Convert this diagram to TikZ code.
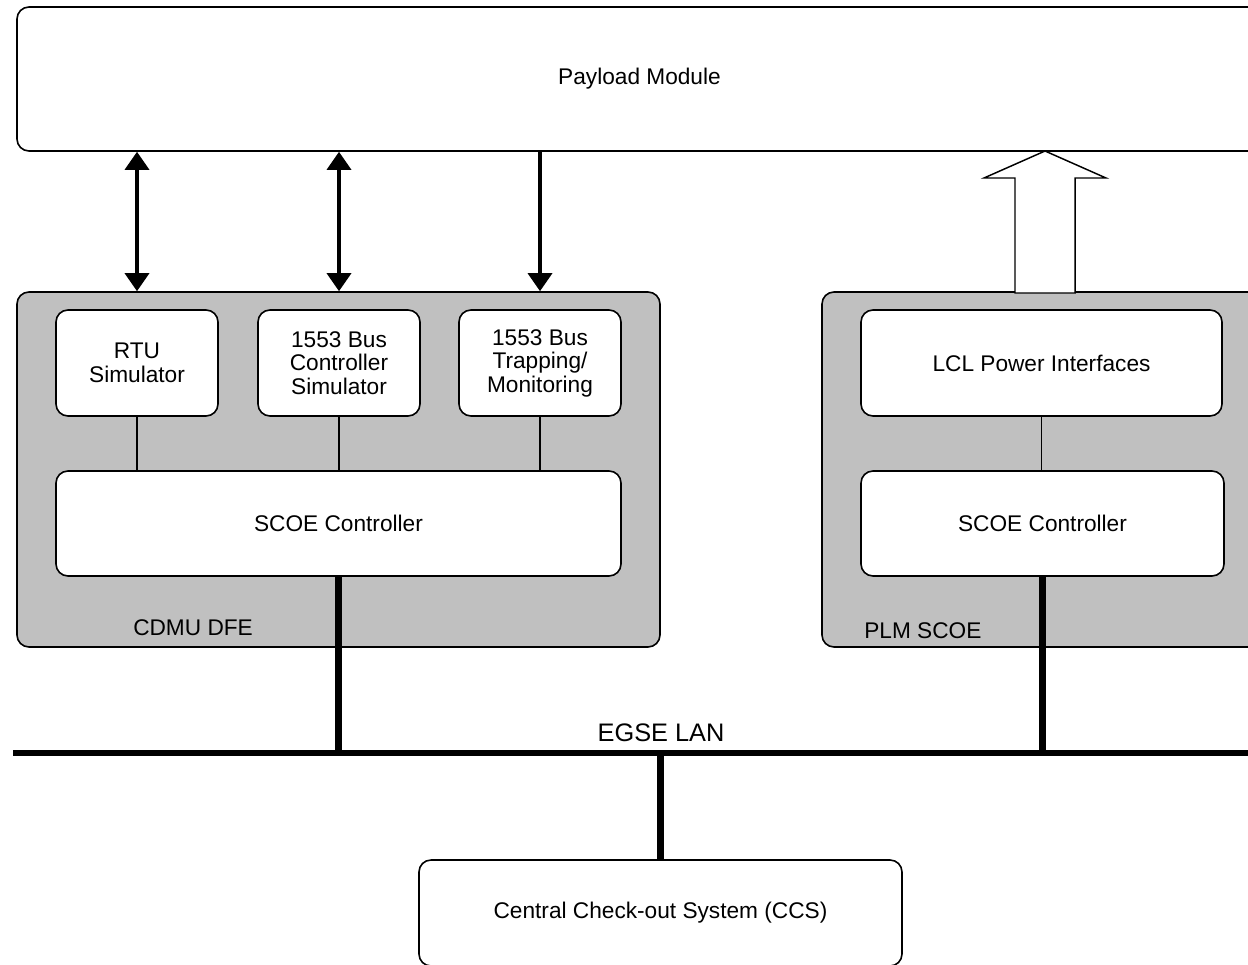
\documentclass[tikz,border=0pt]{standalone}
\usepackage{fontspec}
\setmainfont{Liberation Sans}
\usetikzlibrary{positioning,fit,arrows.meta}

\definecolor{scoegray}{HTML}{C0C0C0}

\tikzset{
  box/.style={draw, line width=1.2pt, rounded corners=9pt, fill=white, inner sep=0pt},
  unitbox/.style={box, fill=scoegray},
  txt/.style={align=center, inner sep=0pt, font=\fontsize{17}{17.6}\selectfont},
  tag/.style={txt, anchor=west},
  link/.style={line width=1.1pt},
  lan/.style={line width=5pt},
  tip/.tip={Triangle[width=18pt,length=13.5pt]},
  sig/.style={line width=2.6pt, -tip},
  dsig/.style={line width=2.6pt, tip-tip},
}

\begin{document}
\begin{tikzpicture}[x=0.75pt,y=-0.75pt]
  \useasboundingbox (0,0) rectangle (1248,964);
  \clip (0,0) rectangle (1248,964);

  % payload and the two front ends
  \node[box, fit={(17,7) (1262,151)}, label={[txt]center:Payload Module}] (plm) {};
  \node[unitbox, fit={(17,292) (660,647)}] (cdmu) {};
  \node[unitbox, fit={(822,292) (1270,647)}] (plmscoe) {};
  \node[tag] (cdmulbl) at (133,628) {CDMU DFE};
  \node[tag] (plmlbl) at (864,631) {PLM SCOE};

  % CDMU DFE modules
  \node[box, fit={(56,310) (218,416)}, label={[txt]center:RTU\\Simulator}] (rtu) {};
  \node[box, fit={(258,310) (420,416)}, label={[txt]center:1553 Bus\\Controller\\Simulator}] (bc) {};
  \node[box, fit={(459,310) (621,416)}, label={[txt]center:1553 Bus\\Trapping/\\Monitoring}] (bm) {};
  \node[box, fit={(56,471) (621,576)}, label={[txt]center:SCOE Controller}] (ctrlA) {};
  \foreach \m in {rtu,bc,bm} { \draw[link] (\m.south) -- (\m.south |- ctrlA.north); }

  % PLM SCOE modules
  \node[box, fit={(861,310) (1222,416)}, label={[txt]center:LCL Power Interfaces}] (lcl) {};
  \node[box, fit={(861,471) (1224,576)}, label={[txt]center:SCOE Controller}] (ctrlB) {};
  \draw[link] (lcl.south) -- (lcl.south |- ctrlB.north);

  % payload links
  \draw[dsig] (rtu |- plm.south) -- (rtu |- cdmu.north);
  \draw[dsig] (bc |- plm.south) -- (bc |- cdmu.north);
  \draw[sig] (bm |- plm.south) -- (bm |- cdmu.north);
  \draw[line width=1.1pt, fill=white] (1015,293) -- (1015,178) -- (984,178) -- (1045,151)
    -- (1106,178) -- (1075,178) -- (1075,293) -- cycle;

  % EGSE LAN
  \coordinate (lanL) at (13,753);
  \coordinate (lanR) at (1260,753);
  \draw[lan] (lanL) -- (lanR);
  \node[txt, font=\fontsize{19}{20}\selectfont] (lanlbl) at (661,733) {EGSE LAN};
  \node[box, fit={(419,860) (902,966)}, label={[txt]center:Central Check-out System (CCS)}] (ccs) {};
  \draw[lan] (ctrlA.south) -- (ctrlA.south |- lanL);
  \draw[lan] (ctrlB.south) -- (ctrlB.south |- lanL);
  \draw[lan] (ccs.north) -- (ccs.north |- lanL);
\end{tikzpicture}
\end{document}
